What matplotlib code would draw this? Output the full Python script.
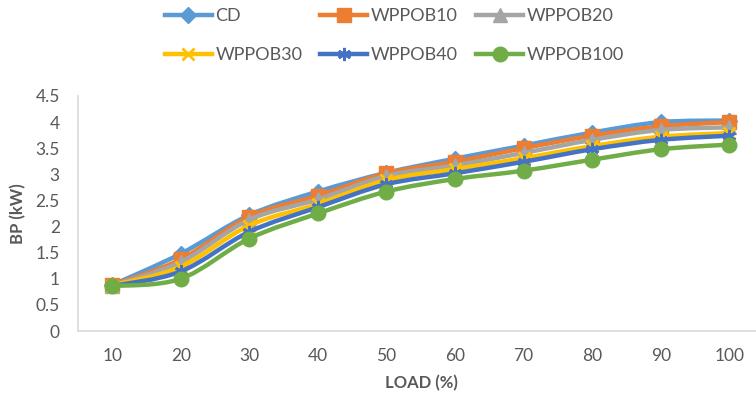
import matplotlib.pyplot as plt
import numpy as np
from matplotlib.lines import Line2D
from matplotlib.patches import PathPatch
from matplotlib.path import Path

plt.rcParams["font.family"] = ["Lato", "DejaVu Sans"]

LOAD = [10, 20, 30, 40, 50, 60, 70, 80, 90, 100]
CD = [0.88, 1.48, 2.22, 2.67, 3.03, 3.30, 3.55, 3.80, 4.00, 4.03]
WPPOB10 = [0.88, 1.37, 2.19, 2.59, 3.02, 3.24, 3.50, 3.74, 3.92, 4.00]
WPPOB20 = [0.87, 1.32, 2.13, 2.52, 2.97, 3.17, 3.41, 3.66, 3.85, 3.90]
WPPOB30 = [0.87, 1.23, 2.02, 2.43, 2.89, 3.10, 3.31, 3.54, 3.72, 3.79]
WPPOB40 = [0.86, 1.14, 1.90, 2.37, 2.81, 3.02, 3.24, 3.48, 3.66, 3.74]
WPPOB100 = [0.86, 1.00, 1.77, 2.25, 2.67, 2.91, 3.07, 3.28, 3.48, 3.57]

SERIES = [
    ("CD", CD, "#5B9BD5", "D", 8.5),
    ("WPPOB10", WPPOB10, "#ED7D31", "s", 9.5),
    ("WPPOB20", WPPOB20, "#A5A5A5", "^", 9.5),
    ("WPPOB30", WPPOB30, "#FFC000", "x", 8.5),
    ("WPPOB40", WPPOB40, "#4472C4", (6, 2, 0), 9.5),
    ("WPPOB100", WPPOB100, "#70AD47", "o", 10.5),
]

TEXT = "#595959"


def smooth_path(xs, ys):
    # Catmull-Rom style bezier through the points, like Excel's smoothed line
    pts = np.column_stack([xs, ys]).astype(float)
    verts = [pts[0]]
    codes = [Path.MOVETO]
    n = len(pts)
    for i in range(n - 1):
        p0 = pts[max(i - 1, 0)]
        p1 = pts[i]
        p2 = pts[i + 1]
        p3 = pts[min(i + 2, n - 1)]
        c1 = p1 + (p2 - p0) / 6.0
        c2 = p2 - (p3 - p1) / 6.0
        verts += [c1, c2, p2]
        codes += [Path.CURVE4] * 3
    return Path(verts, codes)


fig = plt.figure(figsize=(7.56, 3.95), dpi=100)
ax = fig.add_axes([0.103, 0.162, 0.907, 0.595])

x = np.arange(len(LOAD))
handles = []
for z, (name, vals, color, marker, ms) in enumerate(SERIES):
    patch = PathPatch(smooth_path(x, vals), fill=False, edgecolor=color,
                      linewidth=3.2, capstyle="round", joinstyle="round", zorder=2 + z)
    ax.add_patch(patch)
    mew = 2.0 if marker in ("x", (6, 2, 0)) else 1.0
    ax.plot(x, vals, linestyle="none", marker=marker, markersize=ms,
            color=color, markeredgecolor=color, markeredgewidth=mew, zorder=2 + z)
    handles.append(Line2D([0], [0], color=color, linewidth=3.2, marker=marker,
                          markersize=ms, markeredgewidth=mew, label=name))

ax.set_xlim(-0.5, len(LOAD) - 0.5)
ax.set_ylim(0, 4.5)
ax.set_xticks(x)
ax.set_xticklabels([str(v) for v in LOAD])
ax.set_yticks(np.arange(0, 4.51, 0.5))
ax.set_yticklabels(["0", "0.5", "1", "1.5", "2", "2.5", "3", "3.5", "4", "4.5"])
ax.tick_params(axis="x", length=0, pad=12, labelsize=12.5, labelcolor=TEXT)
ax.tick_params(axis="y", length=0, pad=13, labelsize=12.5, labelcolor=TEXT)
for side in ("top", "right"):
    ax.spines[side].set_visible(False)
for side in ("left", "bottom"):
    ax.spines[side].set_color("#D9D9D9")
    ax.spines[side].set_linewidth(1.2)

fig.text(0.024, 0.46, "BP (kW)", rotation=90, ha="center", va="center",
         fontsize=12, fontweight="bold", color=TEXT)
fig.text(0.557, 0.03, "LOAD (%)", ha="center", va="center",
         fontsize=12, fontweight="bold", color=TEXT)

order = [0, 3, 1, 4, 2, 5]
fig.legend([handles[i] for i in order], [SERIES[i][0] for i in order],
           loc="upper left", bbox_to_anchor=(0.218, 0.98), ncol=3,
           frameon=False, fontsize=13, labelcolor=TEXT, handlelength=2.6,
           handletextpad=0.2, columnspacing=1.0, labelspacing=1.3,
           borderpad=0, borderaxespad=0)

fig.savefig("out.png", dpi=100)
